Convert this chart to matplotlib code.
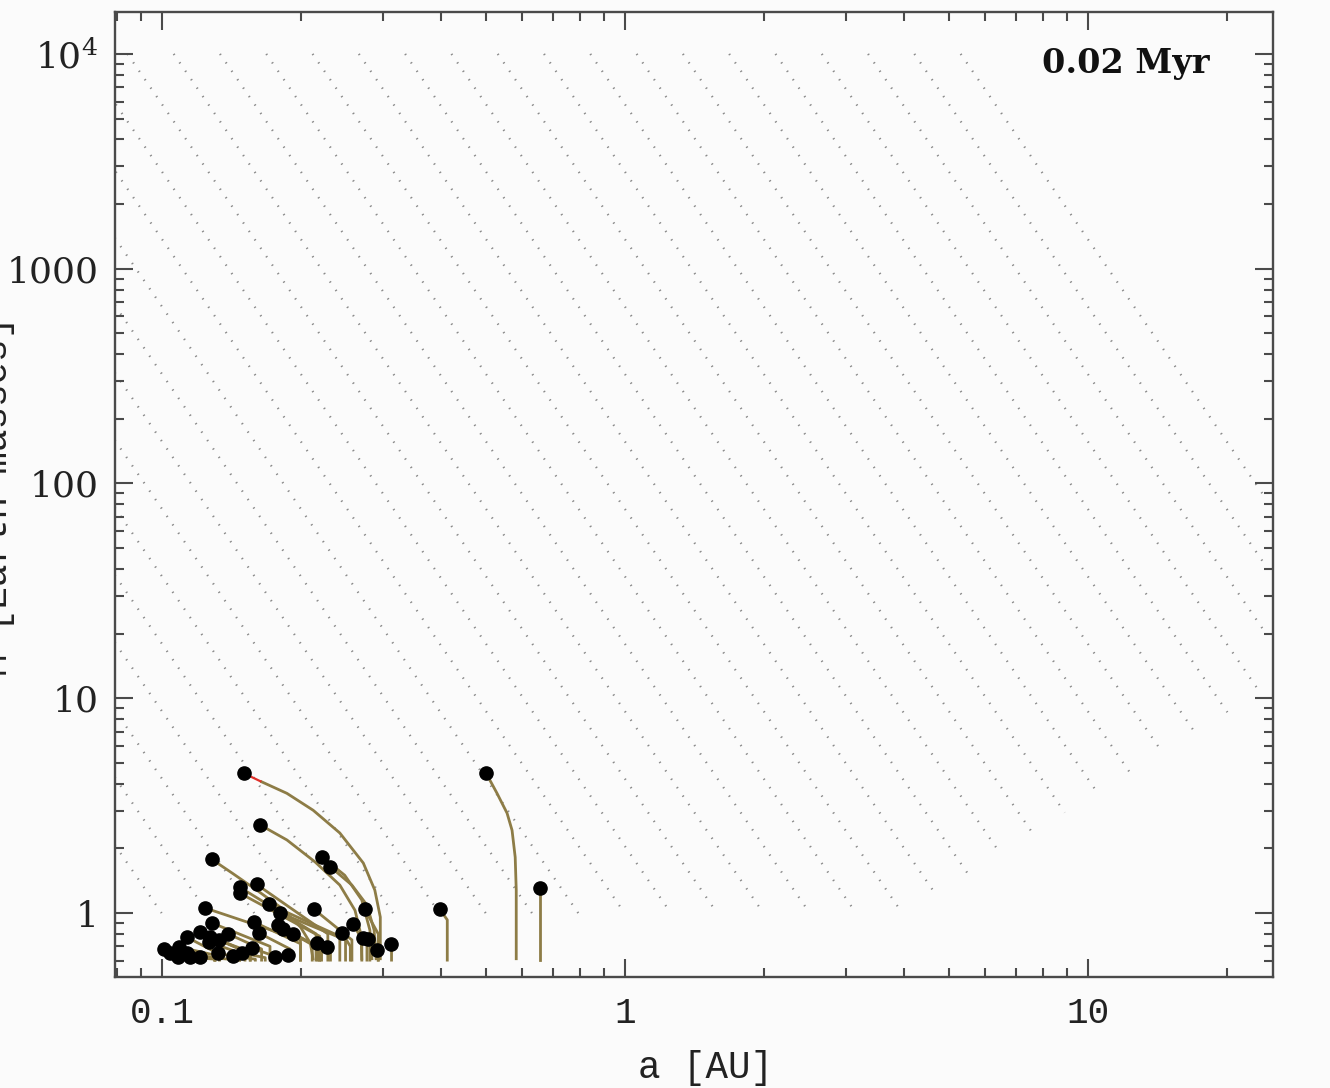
import numpy as np
import matplotlib.pyplot as plt
from matplotlib.ticker import FixedLocator, FixedFormatter, LogLocator, NullFormatter

plt.rcParams['mathtext.fontset'] = 'dejavuserif'

# dotted guide lines M ~ a^-slope, labelled by log10(a) where they start at M = 1e4
guide_slope = 3.14
guide_loga_top = np.round(np.arange(-14, 18) * 0.1 - 0.975, 3)
guide_cut_slope = 1.33      # lower-right edge of the guide family
guide_cut_loga = 0.598      # where that edge meets M = 1
guide_max_a = 24.0

# growth tracks read point by point, (a, M) from the start at the bottom to the planet
curved_tracks = [
    [(0.296, 0.604), (0.296, 0.958), (0.288, 1.28), (0.272, 1.71), (0.242, 2.36),
     (0.212, 3.01), (0.186, 3.61), (0.163, 4.11)],
    [(0.270, 0.604), (0.269, 0.79), (0.261, 1.03), (0.242, 1.35), (0.214, 1.73),
     (0.186, 2.19), (0.163, 2.57)],
    [(0.284, 0.604), (0.281, 0.834), (0.270, 1.15), (0.248, 1.50), (0.222, 1.82)],
    [(0.290, 0.604), (0.287, 0.834), (0.277, 1.09), (0.257, 1.35), (0.231, 1.64)],
    [(0.212, 0.604), (0.209, 0.725), (0.199, 0.861), (0.180, 1.066), (0.160, 1.28),
     (0.142, 1.53), (0.128, 1.78)],
    [(0.582, 0.604), (0.582, 1.28), (0.579, 1.82), (0.570, 2.43), (0.556, 2.92),
     (0.529, 3.61), (0.501, 4.48)],
]
# most recent stretch of the first track (drawn in red)
recent_a = [0.163, 0.150]
recent_m = [4.11, 4.48]

# short tracks: start a, mass where the track leaves the vertical, current a and M
short_start_a = [0.215, 0.219, 0.228, 0.199, 0.242, 0.249, 0.257, 0.293, 0.171, 0.199,
                 0.211, 0.217, 0.219, 0.270, 0.189, 0.255, 0.147, 0.164, 0.130, 0.277,
                 0.281, 0.313, 0.221, 0.231, 0.293, 0.121, 0.133, 0.151, 0.155, 0.176,
                 0.189, 0.175, 0.167, 0.159, 0.115, 0.124, 0.130, 0.140, 0.413, 0.655,
                 0.155, 0.130, 0.147]
short_knee_m = [0.80, 0.78, 0.80, 0.75, 0.78, 0.75, 0.75, 0.80, 0.70, 0.72,
                0.72, 0.70, 0.68, 0.75, 0.68, 0.70, 0.68, 0.68, 0.66, 0.70,
                0.70, 0.68, 0.66, 0.65, 0.64, 0.63, 0.63, 0.64, 0.65, 0.61,
                0.62, 0.63, 0.62, 0.61, 0.62, 0.61, 0.61, 0.61, 0.93, 1.31,
                0.66, 0.62, 0.62]
short_a = [0.147, 0.147, 0.160, 0.124, 0.170, 0.180, 0.213, 0.274, 0.128, 0.158,
           0.178, 0.182, 0.192, 0.259, 0.162, 0.245, 0.121, 0.139, 0.113, 0.272,
           0.279, 0.312, 0.216, 0.227, 0.291, 0.101, 0.109, 0.126, 0.133, 0.175,
           0.187, 0.156, 0.149, 0.142, 0.104, 0.108, 0.115, 0.121, 0.398, 0.655,
           0.127, 0.113, 0.132]
short_m = [1.32, 1.24, 1.36, 1.055, 1.10, 1.00, 1.04, 1.04, 0.90, 0.908,
           0.88, 0.843, 0.799, 0.889, 0.807, 0.807, 0.816, 0.799, 0.773, 0.765,
           0.757, 0.718, 0.725, 0.695, 0.673, 0.680, 0.695, 0.733, 0.749, 0.624,
           0.638, 0.688, 0.651, 0.631, 0.651, 0.624, 0.624, 0.624, 1.04, 1.31,
           0.773, 0.651, 0.651]
start_m = 0.604

y_ticks = [1, 10, 100, 1000, 1e4]
y_tick_labels = ['1', '10', '100', '1000', '$10^4$']
x_ticks = [0.1, 1, 10]
x_tick_labels = ['0.1', '1', '10']
time_label = '0.02 Myr'

bg = '#fbfbfb'
track_col = '#8d7c46'
axis_col = '#4a4a4a'

fig = plt.figure(figsize=(13.3, 10.88), dpi=100, facecolor=bg)
ax = fig.add_axes([115 / 1330, 1 - 977 / 1088, 1158 / 1330, 965 / 1088])
ax.set_facecolor(bg)
ax.set_xscale('log')
ax.set_yscale('log')
ax.set_xlim(0.0791, 25.1)
ax.set_ylim(0.504, 15670)

# guide lines
p, q = guide_slope, guide_cut_slope
for la0 in guide_loga_top:
    la_bottom = la0 + 4 / p
    la_cut = (4 + p * la0 + q * guide_cut_loga) / (p + q)
    la_end = min(la_bottom, la_cut, np.log10(guide_max_a))
    if la_end <= la0:
        continue
    la = np.array([la0, la_end])
    lm = 4 - p * (la - la0)
    ax.plot(10 ** la, 10 ** lm, color='#8a8a8a', lw=1.6,
            linestyle=(0, (0.6, 4.0)), zorder=1)

# growth tracks
for tr in curved_tracks:
    ta, tm = zip(*tr)
    ax.plot(ta, tm, color=track_col, lw=2.0, zorder=2, solid_capstyle='butt')
for a0, mk, a1, m1 in zip(short_start_a, short_knee_m, short_a, short_m):
    ax.plot([a0, a0, a1], [start_m, mk, m1], color=track_col, lw=2.0, zorder=2)
ax.plot(recent_a, recent_m, color='#e0302a', lw=1.6, zorder=3)

# planets
dot_a = [tr[-1][0] for tr in curved_tracks] + short_a
dot_m = [tr[-1][1] for tr in curved_tracks] + short_m
dot_a[0], dot_m[0] = recent_a[-1], recent_m[-1]
ax.plot(dot_a, dot_m, 'o', color='black', ms=9.5, zorder=4)

# axes styling
ax.xaxis.set_major_locator(FixedLocator(x_ticks))
ax.xaxis.set_major_formatter(FixedFormatter(x_tick_labels))
ax.xaxis.set_minor_locator(LogLocator(base=10, subs=np.arange(2, 10)))
ax.xaxis.set_minor_formatter(NullFormatter())
ax.yaxis.set_major_locator(FixedLocator(y_ticks))
ax.yaxis.set_major_formatter(FixedFormatter(y_tick_labels))
ax.yaxis.set_minor_locator(LogLocator(base=10, subs=np.arange(2, 10)))
ax.yaxis.set_minor_formatter(NullFormatter())

ax.tick_params(which='both', direction='in', top=True, right=True,
               color=axis_col, width=1.5)
ax.tick_params(which='major', length=13)
ax.tick_params(which='minor', length=6.5)
ax.tick_params(axis='x', pad=14, labelsize=26, labelcolor='#222222')
ax.tick_params(axis='y', pad=12, labelsize=26, labelcolor='#222222')
for lab in ax.get_xticklabels():
    lab.set_family('Liberation Mono')
for lab in ax.get_yticklabels():
    lab.set_family('DejaVu Serif')
for s in ax.spines.values():
    s.set_color(axis_col)
    s.set_linewidth(1.7)

fig.text(705 / 1330, 1 - 1068 / 1088, 'a [AU]', ha='center', va='center',
         fontsize=27, family='Liberation Mono', color='#222222')
# the reference crops this label at the left edge of the frame
fig.text(-0.002, 1 - 496 / 1088, 'M [Earth masses]', ha='center', va='center',
         rotation=90, fontsize=27, family='Liberation Mono', color='#222222')
fig.text(1210 / 1330, 1 - 63 / 1088, time_label, ha='right', va='center',
         fontsize=24, fontweight='bold', family='DejaVu Serif', color='#111111')

fig.savefig('out.png', dpi=100, facecolor=bg)
